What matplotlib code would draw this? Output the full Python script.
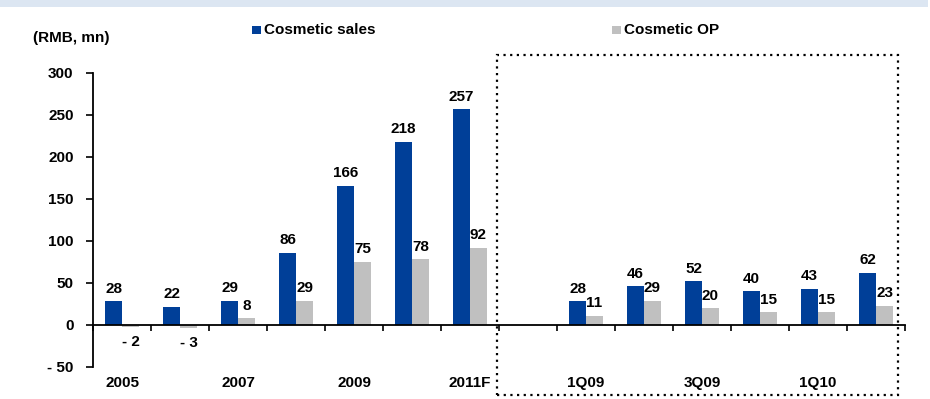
import matplotlib
matplotlib.use("Agg")
import matplotlib.pyplot as plt
from matplotlib.patches import Rectangle
import numpy as np

plt.rcParams['font.family'] = ['Liberation Sans', 'DejaVu Sans']
plt.rcParams['font.weight'] = 'bold'

# ---- data ----
categories = ["2005", "2006", "2007", "2008", "2009", "2010", "2011F", "",
              "1Q09", "2Q09", "3Q09", "4Q09", "1Q10", "2Q10"]
tick_labels = ["2005", "", "2007", "", "2009", "", "2011F", "",
               "1Q09", "", "3Q09", "", "1Q10", ""]
sales = [28, 22, 29, 86, 166, 218, 257, None, 28, 46, 52, 40, 43, 62]
op = [-2, -3, 8, 29, 75, 78, 92, None, 11, 29, 20, 15, 15, 23]
series_names = ["Cosmetic sales", "Cosmetic OP"]
yticks = [-50, 0, 50, 100, 150, 200, 250, 300]

BLUE = "#003F98"
GRAY = "#C0C0C0"
W, H = 930, 399
FS = 11

fig = plt.figure(figsize=(W / 100, H / 100), dpi=100)
ax = fig.add_axes([93 / W, 1 - 367 / H, (905 - 93) / W, (367 - 73) / H])

n = len(categories)
x = np.arange(n)
bw = 17 / 58
idx = [i for i in range(n) if sales[i] is not None]
sv = [sales[i] for i in idx]
ov = [op[i] for i in idx]
xs = np.array(idx)
ax.bar(xs - bw / 2, sv, width=bw, color=BLUE, zorder=2)
ax.bar(xs + bw / 2, ov, width=bw, color=GRAY, zorder=2)

def fmt(v):
    return f"- {abs(v)}" if v < 0 else f"{v}"

for xi, s, o in zip(xs, sv, ov):
    ax.annotate(fmt(s), (xi - bw / 2, s), xytext=(0, 4), textcoords="offset points",
                ha="center", va="bottom", fontsize=FS, fontweight="bold")
    if o >= 0:
        ax.annotate(fmt(o), (xi + bw / 2, o), xytext=(0, 4), textcoords="offset points",
                    ha="center", va="bottom", fontsize=FS, fontweight="bold")
    else:
        ax.annotate(fmt(o), (xi + bw / 2, o), xytext=(0, -6), textcoords="offset points",
                    ha="center", va="top", fontsize=FS, fontweight="bold")

ax.set_xlim(-0.5, n - 0.5)
ax.set_ylim(-50, 300)
ax.set_yticks(yticks)
ax.set_yticklabels([fmt(v) for v in yticks], fontsize=FS, fontweight="bold")
ax.tick_params(axis="y", direction="out", length=5, width=1.2, pad=9)

for s in ["top", "right"]:
    ax.spines[s].set_visible(False)
ax.spines["bottom"].set_position(("data", 0))
ax.spines["left"].set_linewidth(1.3)
ax.spines["bottom"].set_linewidth(1.3)

ax.set_xticks(x)
ax.set_xticklabels(tick_labels, fontsize=FS, fontweight="bold")
ax.tick_params(axis="x", which="major", length=0, pad=37)
ax.set_xticks(np.arange(-0.5, n, 1.0), minor=True)
ax.tick_params(axis="x", which="minor", direction="out", length=4, width=1.2)

# top band
fig.add_artist(Rectangle((0, 1 - 7 / H), 928 / W, 7 / H, transform=fig.transFigure,
                         facecolor="#DCE6F2", edgecolor="none"))

# dotted box
fig.add_artist(Rectangle((497 / W, 1 - 395 / H), (898 - 497) / W, (395 - 55) / H,
                         transform=fig.transFigure, facecolor="none", edgecolor="black",
                         linestyle=(0, (1, 2)), linewidth=1.6))

# unit label
fig.text(33 / W, 1 - 38 / H, "(RMB, mn)", fontsize=FS, fontweight="bold",
         ha="left", va="center")

# legend
for (lx, name, col) in [(252, series_names[0], BLUE), (612, series_names[1], GRAY)]:
    fig.add_artist(Rectangle((lx / W, 1 - 34 / H), 9 / W, 8 / H, transform=fig.transFigure,
                             facecolor=col, edgecolor="none"))
    fig.text((lx + 12) / W, 1 - 30 / H, name, fontsize=FS, fontweight="bold",
             ha="left", va="center")

fig.savefig("out.png", dpi=100)
